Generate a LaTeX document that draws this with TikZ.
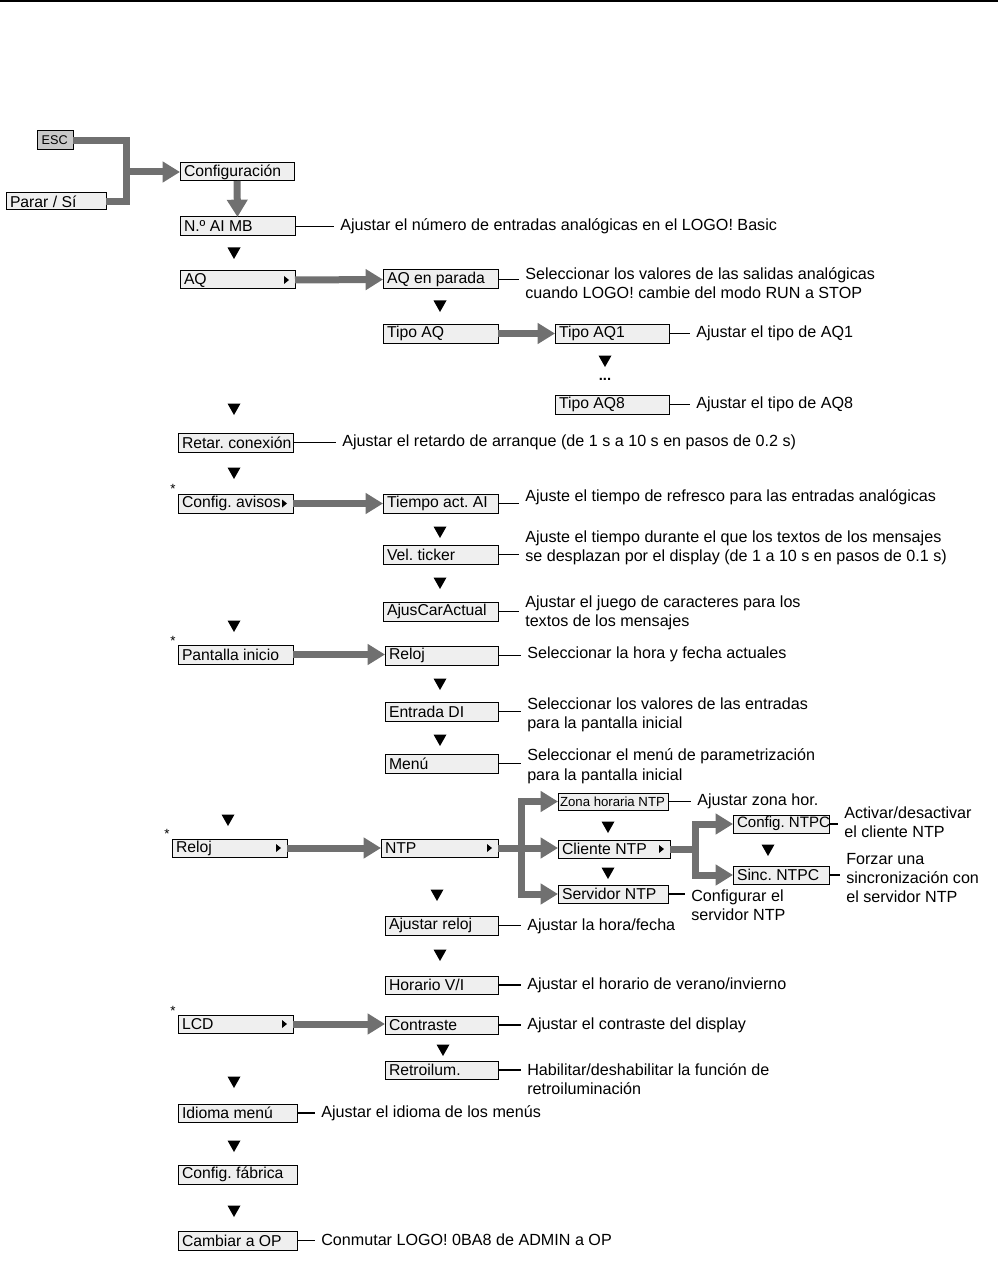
\documentclass[tikz,border=0pt]{standalone}
\usepackage{fontspec}
\setmainfont{Liberation Sans}
\usetikzlibrary{arrows.meta,calc}
\definecolor{boxfill}{HTML}{EFEFEF}
\definecolor{escfill}{HTML}{C8C8C8}
\definecolor{conncol}{HTML}{707070}
\frenchspacing
\newcommand\mybox[7][boxfill]{%
  \pgfmathsetmacro\bw{(#5-#3)*0.75}%
  \pgfmathsetmacro\bh{(#6-#4)*0.75}%
  \pgfmathsetmacro\tw{\bw-6}%
  \node[box, fill=#1, minimum width=\bw pt, minimum height=\bh pt, anchor=north west] (#2) at (#3,#4) {\makebox[\tw pt][l]{#7}};%
}
\newcommand\dtri[2]{\fill (#1-6.5,#2-5.5) -- (#1+6.5,#2-5.5) -- (#1,#2+6) -- cycle;}
\newcommand\rtri[1]{\fill ($(#1.east)+(-11,-4)$) -- ($(#1.east)+(-6,0)$) -- ($(#1.east)+(-11,4)$) -- cycle;}
\newcommand\desc[5]{% name, box, x, y, text
  \node[desc, anchor=west] (#1) at (#3,#4) {#5};
  \draw[thinline] (#2.east) -- (#2.east -| #1.west);
}
\begin{document}
\begin{tikzpicture}[x=0.75pt,y=-0.75pt,
  box/.style={draw=black, line width=0.75pt, inner xsep=3pt, inner ysep=0pt, outer sep=0pt, font=\fontsize{11.8}{13}\selectfont},
  desc/.style={inner xsep=4.5pt, inner ysep=0pt, align=left, font=\fontsize{12.1}{14.6}\selectfont},
  thinline/.style={line width=0.9pt},
  conn/.style={draw=conncol, line width=5.25pt},
  arr/.style={conn, -{Triangle[length=13pt,width=15pt]}, color=conncol},
  arrboth/.style={conn, {Triangle[length=13pt,width=15pt]}-{Triangle[length=13pt,width=15pt]}, color=conncol},
  starlab/.style={inner sep=0pt, font=\fontsize{10}{10}\selectfont}
]
\useasboundingbox (0,0) rectangle (998,1269);
\draw[line width=1.5pt] (0,1) -- (998,1);

% boxes
\mybox[escfill]{esc}{37}{131}{73}{150}{\hfil\fontsize{9.5}{10}\selectfont ESC\hfil}
\mybox{parar}{6}{193}{106}{210}{Parar / Sí}
\mybox{conf}{180}{163}{294}{181}{Configuración}
\mybox{aimb}{180}{217}{295}{236}{N.º AI MB}
\mybox{aq}{180}{271}{295}{289}{AQ}
\mybox{aqpar}{383}{270}{498}{289}{AQ en parada}
\mybox{tipoaq}{383}{324}{498}{343}{Tipo AQ}
\mybox{aqone}{555}{324}{669}{343}{Tipo AQ1}
\mybox{aqeight}{555}{395}{669}{414}{Tipo AQ8}
\mybox{retar}{178}{433}{293}{452}{Retar. conexión}
\mybox{avisos}{178}{494}{293}{513}{Config. avisos}
\mybox{tiempo}{383}{494}{498}{513}{Tiempo act. AI}
\mybox{ticker}{383}{545}{498}{564}{Vel. ticker}
\mybox{ajuscar}{383}{602}{498}{621}{AjusCarActual}
\mybox{pantalla}{178}{645}{293}{664}{Pantalla inicio}
\mybox{relojr}{385}{646}{498}{665}{Reloj}
\mybox{entrada}{385}{702}{498}{721}{Entrada DI}
\mybox{menu}{385}{754}{498}{773}{Menú}
\mybox{zona}{558}{793}{668}{810}{\kern-1.5pt\fontsize{9.9}{11}\selectfont Zona horaria NTP}
\mybox{cliente}{558}{840}{670}{858}{Cliente NTP}
\mybox{servidor}{558}{885}{668}{903}{Servidor NTP}
\mybox{cfgntpc}{733}{815}{829}{833}{\fontsize{11.3}{12}\selectfont Config. NTPC}
\mybox{sinc}{733}{866}{829}{884}{Sinc. NTPC}
\mybox{relojl}{172}{839}{287}{857}{Reloj}
\mybox{ntp}{381}{839}{498}{857}{NTP}
\mybox{ajreloj}{385}{916}{498}{935}{Ajustar reloj}
\mybox{horario}{385}{976}{498}{994}{Horario V/I}
\mybox{lcd}{178}{1015}{293}{1033}{LCD}
\mybox{contraste}{385}{1016}{498}{1034}{Contraste}
\mybox{retro}{385}{1061}{498}{1079}{Retroilum.}
\mybox{idioma}{178}{1104}{297}{1122}{Idioma menú}
\mybox{fabrica}{178}{1165}{297}{1184}{Config. fábrica}
\mybox{cambiar}{178}{1231}{297}{1250}{Cambiar a OP}

% small right triangles inside boxes
\rtri{aq}
\rtri{avisos}
\rtri{relojl}
\rtri{ntp}
\rtri{cliente}
\rtri{lcd}

% stars
\node[starlab] (s1) at (173,489) {*};
\node[starlab] (s2) at (173,641) {*};
\node[starlab] (s3) at (167,834) {*};
\node[starlab] (s4) at (173,1011) {*};

% descriptions
\desc{daimb}{aimb}{334}{226}{Ajustar el número de entradas analógicas en el LOGO! Basic}
\desc{daqpar}{aqpar}{519}{283}{Seleccionar los valores de las salidas analógicas\\cuando LOGO! cambie del modo RUN a STOP}
\desc{daqone}{aqone}{690}{333}{Ajustar el tipo de AQ1}
\desc{daqeight}{aqeight}{690}{404}{Ajustar el tipo de AQ8}
\desc{dretar}{retar}{336}{442}{Ajustar el retardo de arranque (de 1 s a 10 s en pasos de 0.2 s)}
\desc{dtiempo}{tiempo}{519}{497}{Ajuste el tiempo de refresco para las entradas analógicas}
\desc{dticker}{ticker}{519}{548}{Ajuste el tiempo durante el que los textos de los mensajes\\se desplazan por el display (de 1 a 10 s en pasos de 0.1 s)}
\desc{dajuscar}{ajuscar}{519}{613}{Ajustar el juego de caracteres para los\\textos de los mensajes}
\desc{drelojr}{relojr}{521}{654}{Seleccionar la hora y fecha actuales}
\desc{dentrada}{entrada}{521}{715}{Seleccionar los valores de las entradas\\para la pantalla inicial}
\desc{dmenu}{menu}{521}{766}{Seleccionar el menú de parametrización\\para la pantalla inicial}
\desc{dzona}{zona}{691}{801}{Ajustar zona hor.}
\desc{dcfgntpc}{cfgntpc}{838}{822}{Activar/desactivar\\el cliente NTP}
\desc{dsinc}{sinc}{840}{878}{Forzar una\\sincronización con\\el servidor NTP}
\desc{dservidor}{servidor}{685}{905}{Configurar el\\servidor NTP}
\desc{dajreloj}{ajreloj}{521}{926}{Ajustar la hora/fecha}
\desc{dhorario}{horario}{521}{985}{Ajustar el horario de verano/invierno}
\desc{dcontraste}{contraste}{521}{1025}{Ajustar el contraste del display}
\desc{dretro}{retro}{521}{1079}{Habilitar/deshabilitar la función de\\retroiluminación}
\desc{didioma}{idioma}{315}{1113}{Ajustar el idioma de los menús}
\desc{dcambiar}{cambiar}{315}{1240}{Conmutar LOGO! 0BA8 de ADMIN a OP}

% thick connectors
\coordinate (j) at (126,172);
\draw[conn] (esc.east) -| (j |- parar.east) -- (parar.east);
\draw[arr] (j |- conf.west) -- (conf.west);
\draw[arr] (conf.south) -- (aimb.north);
\draw[arr] (aq.east) -- (aqpar.west);
\draw[arr] (tipoaq.east) -- (aqone.west);
\draw[arr] (avisos.east) -- (tiempo.west);
\draw[arr] (pantalla.east) -- (pantalla.east -| relojr.west);
\draw[arr] (relojl.east) -- (ntp.west);
\draw[arr] (ntp.east) -- (ntp.east -| cliente.west);
\coordinate (fa) at (521,848);
\draw[arrboth] (zona.west) -- (fa |- zona.west) -- (fa |- servidor.west) -- (servidor.west);
\coordinate (fb) at (695,849);
\draw[arrboth] (cfgntpc.west) -- (fb |- cfgntpc.west) -- (fb |- sinc.west) -- (sinc.west);
\draw[conn] (cliente.east) -- (fb |- cliente.east);
\draw[arr] (lcd.east) -- (lcd.east -| contraste.west);

% down markers
\dtri{234}{253}
\dtri{440}{306}
\dtri{605}{361}
\node[inner sep=0pt, font=\bfseries\fontsize{11}{11}\selectfont] (dots) at (605,379) {...};
\dtri{234}{409}
\dtri{234}{473}
\dtri{440}{532}
\dtri{440}{583}
\dtri{234}{626}
\dtri{440}{684}
\dtri{440}{740}
\dtri{228}{820}
\dtri{608}{827}
\dtri{608}{873}
\dtri{768}{850}
\dtri{437}{895}
\dtri{440}{955}
\dtri{443}{1050}
\dtri{234}{1082}
\dtri{234}{1146}
\dtri{234}{1211}
\end{tikzpicture}
\end{document}
